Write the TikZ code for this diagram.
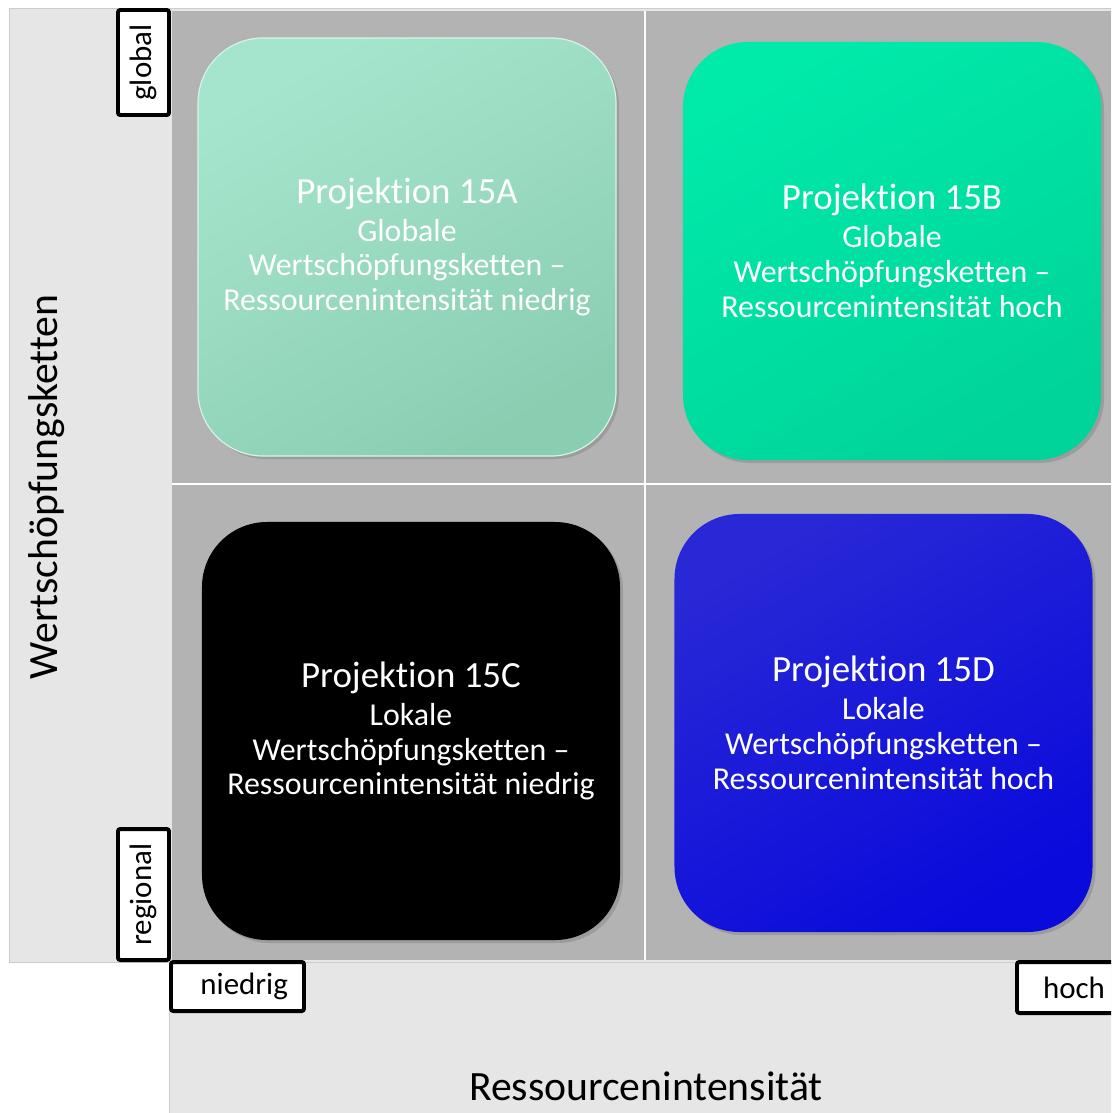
\documentclass[tikz,border=0pt]{standalone}
\usepackage{fontspec}
\setmainfont{Carlito}[Ligatures=NoCommon]
\usetikzlibrary{shadows}
\definecolor{mintA}{RGB}{166,229,205}
\definecolor{mintB}{RGB}{138,206,178}
\definecolor{greenA}{RGB}{0,234,170}
\definecolor{greenB}{RGB}{0,212,154}
\definecolor{blueA}{RGB}{40,40,214}
\definecolor{blueB}{RGB}{10,10,220}
\definecolor{field}{RGB}{179,179,179}
\definecolor{band}{RGB}{230,230,230}
\definecolor{rim}{RGB}{204,204,204}

\begin{document}
\begin{tikzpicture}[x=0.03cm, y=-0.03cm,
  panel/.style={shape=rectangle, rounded corners=1.95cm, minimum width=12.54cm,
    minimum height=12.54cm, text=white, align=center,
    font=\fontsize{27.2}{29.8}\selectfont,
    drop shadow={opacity=0.45, shadow xshift=0.09cm, shadow yshift=-0.09cm}},
  tag/.style={shape=rectangle, draw=black, line width=3.4pt, fill=white,
    rounded corners=2pt, inner sep=0pt, font=\fontsize{26.4}{30}\selectfont},
  axis/.style={font=\fontsize{35.6}{40}\selectfont}]
\useasboundingbox (0,0) rectangle (1111,1113);
\clip (0,0) rectangle (1111,1113);

% bands and field
\draw[rim, fill=band] (9,8) rectangle (1120,962);
\fill[field] (172,11) rectangle (1111,960);
\draw[rim, fill=band] (169,962) rectangle (1120,1120);
\draw[white, line width=2.5pt] (645,11) -- (645,960) (172,484) -- (1111,484);

\node[panel, top color=mintA, bottom color=mintB, shading angle=30,
  draw=white!55!mintA, line width=1pt] (p15a) at (407,247)
  {{\fontsize{31.5}{34}\selectfont Projektion 15A}\\[2.5pt] Globale\\
   Wertschöpfungsketten –\\ Ressourcenintensität niedrig};
\node[panel, top color=greenA, bottom color=greenB, shading angle=30] (p15b) at (892,251)
  {{\fontsize{31.5}{34}\selectfont Projektion 15B}\\[2.5pt] Globale\\
   Wertschöpfungsketten –\\ Ressourcenintensität hoch};
\node[panel, fill=black] (p15c) at (411,731)
  {{\fontsize{31.5}{34}\selectfont Projektion 15C}\\[2.5pt] Lokale\\
   Wertschöpfungsketten –\\ Ressourcenintensität niedrig};
\node[panel, top color=blueA, bottom color=blueB, shading angle=30] (p15d) at (883.5,723)
  {{\fontsize{31.5}{34}\selectfont Projektion 15D}\\[2.5pt] Lokale\\
   Wertschöpfungsketten –\\ Ressourcenintensität hoch};

\node[tag, rotate=90, minimum width=3.15cm, minimum height=1.53cm] (global) at (143.5,62.5) {global};
\node[tag, rotate=90, minimum width=3.93cm, minimum height=1.53cm] (regional) at (143.5,894.5) {regional};
\node[tag, minimum width=3.99cm, minimum height=1.47cm] (niedrig) at (237.5,986.5) {\hspace*{0.4cm}niedrig};
\node[tag, minimum width=3.42cm, minimum height=1.53cm] (hoch) at (1074,987.5) {hoch};

\node[axis, rotate=90] (wsk) at (47,487) {Wertschöpfungsketten};
\node[axis] (ri) at (646,1086) {Ressourcenintensität};
\end{tikzpicture}
\end{document}
